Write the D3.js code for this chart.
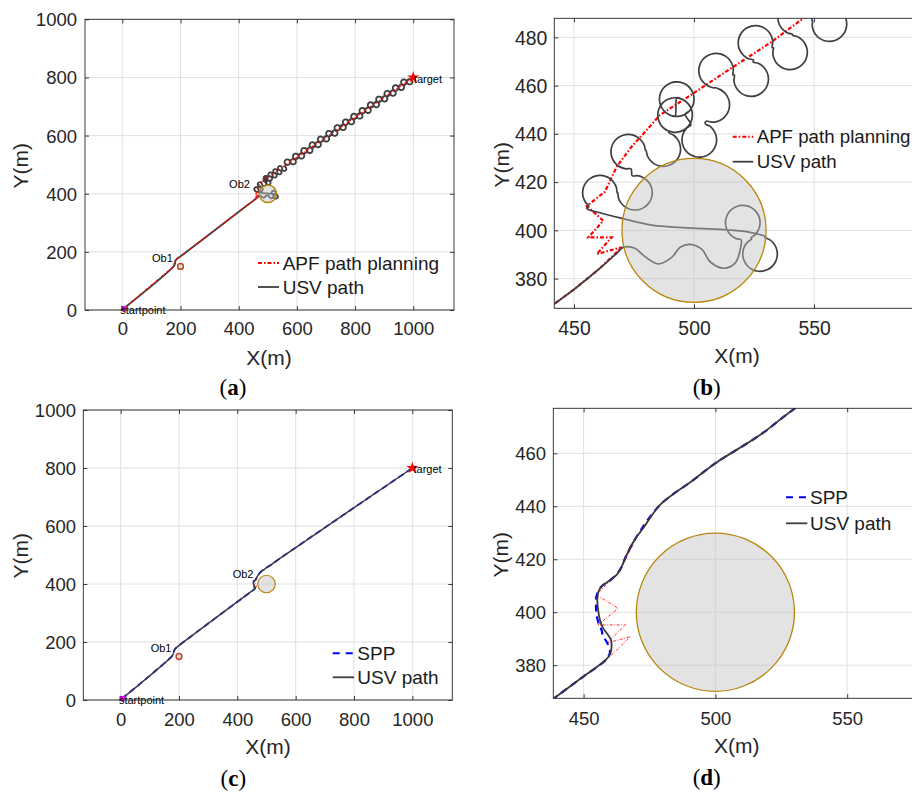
<!DOCTYPE html>
<html><head><meta charset="utf-8">
<script src="https://cdn.jsdelivr.net/npm/d3@7"></script>
<style>body{margin:0;background:#fff;} svg{display:block;}</style>
</head><body>
<svg id="chart" width="912" height="792"></svg>
<script>
// ---------------- DATA ----------------
const startPoint = [5, 5];
const targetPoint = [1000, 800];
const obstacles = [
  {name: "Ob1", x: 200, y: 150, r: 10},
  {name: "Ob2", x: 500, y: 400, r: 30}
];
const loopRadius = 7.2;      // loops seen in panel (b)
const farLoopRadius = 9.5;   // loops seen along the chain in panel (a)

// USV path with APF planning (panels a, b)
const usvApproach = [[5,5],[178,152],[181,160],[183,170],[190,178],[198,183],[441.8,369.5],[449.7,375.3],[460.8,384.3],[467.8,390.5]];
const usvLowerWave = [[470.6,393.0],[475.4,392.6],[479.6,389.1],[485.1,386.1],[490.7,388.8],[494.2,393.0],[498.3,394.2],[503.2,392.2],[506.7,387.0],[512.2,384.3],[517.1,386.4],[519.2,391.9]];
const usvInnerLoops = [[520.3,403.2],[527.5,390.2]];
const usvUpperLine = [[529.6,397.4],[523.3,399.2],[513.6,400.2],[499.7,400.9],[482.4,402.2],[469.9,405.0],[460.8,407.3],[455.3,409.1]];
const usvChainLoopsNear = [
  [460.8,415.6],[475.4,415.6],[472.6,432.6],[487.2,433.7],[492.1,447.8],[492.8,454.4],[502.2,437.5],
  [507.6,452.0],[509.2,466.2],[523.8,462.7],[525.6,477.7],[540.0,473.8],[542.1,488.3],[556.4,485.5]
];
const closedNearLoops = [4, 5];   // the two overlapping, fully closed loops
const usvChainLoopsFar = [
  [567.2,508.7],[587.1,510.3],[595.8,528.4],[615.7,530.0],[624.4,548.0],[644.3,549.6],[653.0,567.7],
  [672.9,569.3],[681.6,587.3],[701.5,588.9],[710.2,607.0],[730.1,608.6],[738.8,626.6],[758.7,628.2],
  [767.4,646.3],[787.3,647.9],[796.0,665.9],[815.9,667.5],[824.6,685.6],[844.5,687.2],[853.2,705.2],
  [873.1,706.8],[881.8,724.8],[901.7,726.5],[910.4,744.5],[930.3,746.1],[939.0,764.1],[958.9,765.8],
  [967.6,783.8],[987.5,785.4]
];
const usvEnd = [[1000,800]];

// APF planned path (panels a, b)
const apfPath = [[5,5],[178,152],[175,158],[183,162],[180,168],[188,176],[198,183],[441.8,369.5],[449.7,375.3],[460.8,384.3],
  [469.9,393.0],[459.5,390.2],[465.7,397.1],[456.0,397.1],[462.2,404.0],[455.3,410.1],[462.9,416.0],[467.8,426.4],
  [474.0,434.7],[480.3,441.6],[485.8,447.8],[499.7,456.8],[516.4,467.8],[532.4,478.2],[545.5,487.9],[1000,800]];

// SPP case (panels c, d)
const usvPathSPP = [[5,5],[175,150],[180,158],[183,170],[190,180],[209,195],[438.8,367.5],[449.9,375.7],[458.7,382.3],
  [460.2,384.5],[460.6,387.0],[460.4,389.5],[459.3,391.4],[457.4,394.0],[456.2,397.1],[455.5,400.9],[455.2,404.6],
  [455.5,407.4],[456.8,409.7],[458.7,411.2],[460.6,412.5],[462.5,414.1],[463.8,416.0],[465.0,418.5],[466.3,421.6],
  [468.2,425.4],[470.1,428.5],[472.6,431.7],[479.0,440.5],[491.6,449.9],[499.9,456.2],[516.9,466.9],[530.2,477.0],[1000,800]];
const sppPath = [[5,5],[175,150],[180,158],[183,170],[190,180],[209,195],[438.8,367.5],[449.9,375.7],[458.7,382.3],
  [460.0,385.1],[458.7,388.9],[457.4,390.8],[456.8,393.3],[455.9,395.2],[454.9,399.0],[454.7,402.1],[454.9,406.2],
  [456.8,409.7],[460.6,412.5],[463.8,416.0],[466.3,421.6],[470.1,428.5],[479.0,440.5],[491.6,449.9],[499.9,456.2],
  [516.9,466.9],[530.2,477.0],[1000,800]];
const apfZigzagSPP = [[449.9,375.7],[458.7,382.3],[460.6,383.9],[467.8,390.8],[458.7,388.3],[465.9,395.2],[455.5,395.2],
  [463.1,401.5],[454.9,406.5],[459.0,410.8],[463.0,414.5],[466.5,421.0],[470.0,428.0]];

// tick labels
const ticksWideX = [0,200,400,600,800,1000];
const ticksWideY = [0,200,400,600,800,1000];
const ticksZoomX = [450,500,550];
const ticksZoomYb = [380,400,420,440,460,480];
const ticksZoomYd = [380,400,420,440,460];

// ---------------- DRAWING ----------------
const svg = d3.select("#chart");
const FONT = "'Liberation Sans', Arial, Helvetica, sans-serif";
const USV_COLOR = "#3f3f3f";
const tau = 2 * Math.PI;

function makePanel(cfg) {
  const g = svg.append("g");
  const x = d3.scaleLinear().domain(cfg.xDom).range([cfg.left, cfg.left + cfg.w]);
  const y = d3.scaleLinear().domain(cfg.yDom).range([cfg.top + cfg.h, cfg.top]);
  const clipId = "clip" + cfg.id;
  svg.append("clipPath").attr("id", clipId).append("rect")
    .attr("x", cfg.left).attr("y", cfg.top).attr("width", cfg.w).attr("height", cfg.h);
  const grid = g.append("g").attr("stroke", "#e0e0e0").attr("stroke-width", 1);
  grid.selectAll("line.gx").data(cfg.xTicks).join("line").attr("class","gx")
    .attr("x1", d => x(d)).attr("x2", d => x(d)).attr("y1", cfg.top).attr("y2", cfg.top + cfg.h);
  grid.selectAll("line.gy").data(cfg.yTicks).join("line").attr("class","gy")
    .attr("y1", d => y(d)).attr("y2", d => y(d)).attr("x1", cfg.left).attr("x2", cfg.left + cfg.w);
  const plot = g.append("g").attr("clip-path", `url(#${clipId})`);
  return {g, plot, x, y, cfg};
}

function finishAxes(P) {
  const {g, x, y, cfg} = P;
  const bottom = cfg.top + cfg.h, right = cfg.left + cfg.w;
  const axB = g.append("g").attr("transform", `translate(0,${bottom})`)
    .call(d3.axisBottom(x).tickValues(cfg.xTicks).tickSizeInner(-4).tickSizeOuter(0).tickFormat(d3.format("d")));
  axB.selectAll("text").attr("y", cfg.xLabOff).attr("dy", "0.35em");
  const axL = g.append("g").attr("transform", `translate(${cfg.left},0)`)
    .call(d3.axisLeft(y).tickValues(cfg.yTicks).tickSizeInner(-4).tickSizeOuter(0).tickFormat(d3.format("d")));
  axL.selectAll("text").attr("x", -cfg.yLabOff).attr("dy", "0.35em");
  const axT = g.append("g").attr("transform", `translate(0,${cfg.top})`)
    .call(d3.axisTop(x).tickValues(cfg.xTicks).tickSizeInner(-4).tickSizeOuter(0).tickFormat(""));
  const axR = g.append("g").attr("transform", `translate(${right},0)`)
    .call(d3.axisRight(y).tickValues(cfg.yTicks).tickSizeInner(-4).tickSizeOuter(0).tickFormat(""));
  [axB, axL, axT, axR].forEach(a => {
    a.attr("font-family", FONT).attr("font-size", cfg.tickFont).attr("color", "#262626");
    a.select(".domain").remove();
    a.selectAll(".tick line").attr("stroke-width", 0.9);
  });
  g.append("rect").attr("x", cfg.left).attr("y", cfg.top).attr("width", cfg.w).attr("height", cfg.h)
    .attr("fill", "none").attr("stroke", "#262626").attr("stroke-width", 0.9);
  g.append("text").attr("x", cfg.xTitle[0]).attr("y", cfg.xTitle[1]).attr("text-anchor", "middle")
    .attr("dominant-baseline", "central").attr("font-family", FONT).attr("font-size", 21).attr("fill", "#262626").text("X(m)");
  g.append("text").attr("transform", `translate(${cfg.yTitle[0]},${cfg.yTitle[1]}) rotate(-90)`).attr("text-anchor", "middle")
    .attr("dominant-baseline", "central").attr("font-family", FONT).attr("font-size", 21).attr("fill", "#262626").text("Y(m)");
  const lab = g.append("text").attr("x", cfg.letterPos[0]).attr("y", cfg.letterPos[1]).attr("text-anchor", "middle")
    .attr("dominant-baseline", "central").attr("font-family", "'Liberation Serif', 'Times New Roman', serif")
    .attr("font-size", 23).attr("fill", "#000");
  lab.append("tspan").text("(");
  lab.append("tspan").attr("font-weight", "bold").text(cfg.letter);
  lab.append("tspan").text(")");
}

function drawLegend(P, items, pos) {
  const g = P.g.append("g");
  items.forEach((it, i) => {
    const yy = pos.ys[i];
    g.append("line").attr("x1", pos.x0).attr("x2", pos.x1).attr("y1", yy).attr("y2", yy)
      .attr("stroke", it.color).attr("stroke-width", it.width).attr("stroke-dasharray", it.dash || null);
    g.append("text").attr("x", pos.tx).attr("y", yy).attr("dominant-baseline", "central")
      .attr("font-family", FONT).attr("font-size", pos.font || 19).attr("fill", "#1a1a1a").text(it.label);
  });
}

// Screen points of a sequence of point runs and loops (each loop traced the long way
// round its circle, from the side facing the previous element to the side facing the next)
function seqPoints(seq, sx, sy) {
  const out = [];
  const anchor = (s, which) => s.pts ? (which === "last" ? s.pts[s.pts.length - 1] : s.pts[0]) : s.loop;
  seq.forEach((s, i) => {
    if (s.pts) { s.pts.forEach(d => out.push([sx(d[0]), sy(d[1])])); return; }
    const c = s.loop, prev = anchor(seq[i - 1], "last"), next = anchor(seq[i + 1], "first");
    const cx = sx(c[0]), cy = sy(c[1]);
    const r = Math.abs(sx(c[0] + s.r) - cx);
    const a0 = Math.atan2(sy(prev[1]) - cy, sx(prev[0]) - cx);
    const a1 = Math.atan2(sy(next[1]) - cy, sx(next[0]) - cx);
    const cw = ((a1 - a0) % tau + tau) % tau;
    let sweep = cw >= Math.PI ? cw : cw - tau;
    if (s.full) sweep += Math.sign(sweep) * tau;
    const n = Math.max(6, Math.ceil(Math.abs(sweep) / (Math.PI / 10)));
    for (let k = 0; k <= n; k++) {
      const a = a0 + sweep * k / n;
      out.push([cx + r * Math.cos(a), cy + r * Math.sin(a)]);
    }
  });
  return out;
}

const usvSeq = [{pts: usvApproach.concat(usvLowerWave)}]
  .concat(usvInnerLoops.map(c => ({loop: c, r: loopRadius})))
  .concat([{pts: usvUpperLine}])
  .concat(usvChainLoopsNear.map((c, i) => ({loop: c, r: loopRadius, full: closedNearLoops.includes(i)})))
  .concat(usvChainLoopsFar.map(c => ({loop: c, r: farLoopRadius, full: true})))
  .concat([{pts: usvEnd}]);

const screenCurve = d3.line().curve(d3.curveCatmullRom.alpha(0.5));

function drawObstacles(P, sw) {
  const {plot, x, y} = P;
  obstacles.forEach(o => {
    plot.append("circle").attr("cx", x(o.x)).attr("cy", y(o.y)).attr("r", Math.abs(x(o.x + o.r) - x(o.x)))
      .attr("fill", "rgb(193,193,193)").attr("fill-opacity", 0.45)
      .attr("stroke", o.name === "Ob1" ? "#bb4a22" : "#b8860b").attr("stroke-width", o.name === "Ob1" ? 1.5 : sw);
  });
}

function drawMarkersAndLabels(P, labelPos) {
  const {g, x, y} = P;
  g.append("path").attr("d", d3.symbol(d3.symbolSquare, 28)())
    .attr("transform", `translate(${x(startPoint[0])},${y(startPoint[1])})`).attr("fill", "#ff00ff");
  g.append("path").attr("d", d3.symbol(d3.symbolStar, 45)())
    .attr("transform", `translate(${x(targetPoint[0])},${y(targetPoint[1])})`).attr("fill", "#ff0000");
  labelPos.forEach(l => {
    g.append("text").attr("x", x(l.p[0])).attr("y", y(l.p[1])).attr("dominant-baseline", "central")
      .attr("font-family", FONT).attr("font-size", 11).attr("fill", "#000").text(l.t);
  });
}

const lineLin = (sx, sy) => d3.line().x(d => sx(d[0])).y(d => sy(d[1]));
const lineCR = (sx, sy) => d3.line().x(d => sx(d[0])).y(d => sy(d[1])).curve(d3.curveCatmullRom.alpha(0.5));

// ---------- Panel (a) ----------
const A = makePanel({id: "a", left: 85, top: 19.3, w: 369, h: 290.7, xDom: [-128.2, 1139.9], yDom: [0, 1000],
  xTicks: ticksWideX, yTicks: ticksWideY, tickFont: 18.5, xLabOff: 19, yLabOff: 8,
  xTitle: [269, 357], yTitle: [20.7, 165.7], letter: "a", letterPos: [233, 387]});
A.plot.append("path").attr("d", screenCurve(seqPoints(usvSeq, A.x, A.y))).attr("fill", "none").attr("stroke", USV_COLOR).attr("stroke-width", 1.8);
A.plot.append("path").attr("d", lineLin(A.x, A.y)(apfPath)).attr("fill", "none").attr("stroke", "#ff0000")
  .attr("stroke-width", 1.1).attr("stroke-dasharray", "3,1.5,1,1.5");
drawObstacles(A, 1.4);
drawMarkersAndLabels(A, [{t: "Ob1", p: [102, 179]}, {t: "Ob2", p: [367, 433]}, {t: "startpoint", p: [-7, 0]}, {t: "target", p: [1002, 796]}]);
finishAxes(A);
drawLegend(A, [
  {label: "APF path planning", color: "#ff0000", width: 2, dash: "4,2,1.5,2"},
  {label: "USV path", color: USV_COLOR, width: 1.8}
], {x0: 258, x1: 279, tx: 282.7, ys: [263, 287]});

// ---------- Panel (b) ----------
const B = makePanel({id: "b", left: 554.3, top: 18.3, w: 369, h: 290, xDom: [441.8, 595.5], yDom: [367.7, 487.9],
  xTicks: ticksZoomX, yTicks: ticksZoomYb, tickFont: 19.4, xLabOff: 20, yLabOff: 7,
  xTitle: [737, 355], yTitle: [501.7, 164.7], letter: "b", letterPos: [706.7, 387]});
B.plot.append("path").attr("d", lineLin(B.x, B.y)(apfPath)).attr("fill", "none").attr("stroke", "#ff0000")
  .attr("stroke-width", 2.2).attr("stroke-dasharray", "4,2,1.5,2");
B.plot.append("path").attr("d", screenCurve(seqPoints(usvSeq, B.x, B.y))).attr("fill", "none").attr("stroke", USV_COLOR).attr("stroke-width", 1.7);
drawObstacles(B, 1.3);
finishAxes(B);
drawLegend(B, [
  {label: "APF path planning", color: "#ff0000", width: 2, dash: "4,2,1.5,2"},
  {label: "USV path", color: USV_COLOR, width: 1.8}
], {x0: 732.7, x1: 753.3, tx: 756.7, ys: [136.7, 161.7], font: 18.7});

// ---------- Panel (c) ----------
const C = makePanel({id: "c", left: 83.3, top: 410, w: 369, h: 290, xDom: [-128, 1137], yDom: [0, 1000],
  xTicks: ticksWideX, yTicks: ticksWideY, tickFont: 18.5, xLabOff: 20, yLabOff: 7.3,
  xTitle: [268, 746.7], yTitle: [20.7, 555.7], letter: "c", letterPos: [233.3, 778.3]});
C.plot.append("path").attr("d", lineLin(C.x, C.y)(apfZigzagSPP)).attr("fill", "none").attr("stroke", "#ff0000")
  .attr("stroke-width", 0.8).attr("stroke-dasharray", "3,1.5,1,1.5");
C.plot.append("path").attr("d", lineCR(C.x, C.y)(sppPath)).attr("fill", "none").attr("stroke", "#0000ff")
  .attr("stroke-width", 1.8).attr("stroke-dasharray", "6,4");
C.plot.append("path").attr("d", lineCR(C.x, C.y)(usvPathSPP)).attr("fill", "none").attr("stroke", "#3a3a4a").attr("stroke-width", 1.5);
drawObstacles(C, 1.2);
drawMarkersAndLabels(C, [{t: "Ob1", p: [103, 178]}, {t: "Ob2", p: [384, 434]}, {t: "startpoint", p: [-6, 0]}, {t: "target", p: [1004, 797]}]);
finishAxes(C);
drawLegend(C, [
  {label: "SPP", color: "#0000ff", width: 2, dash: "7,6"},
  {label: "USV path", color: USV_COLOR, width: 1.8}
], {x0: 332.7, x1: 354, tx: 357.3, ys: [653.3, 677.3]});

// ---------- Panel (d) ----------
const D = makePanel({id: "d", left: 553.3, top: 408.3, w: 369, h: 290, xDom: [438.5, 578.5], yDom: [367.5, 477],
  xTicks: ticksZoomX, yTicks: ticksZoomYd, tickFont: 18.5, xLabOff: 20, yLabOff: 7.3,
  xTitle: [736.7, 745], yTitle: [500.7, 554.7], letter: "d", letterPos: [706.7, 776.7]});
D.plot.append("path").attr("d", lineLin(D.x, D.y)(apfZigzagSPP)).attr("fill", "none").attr("stroke", "#ff0000")
  .attr("stroke-width", 0.8).attr("stroke-dasharray", "3,1.5,1,1.5");
D.plot.append("path").attr("d", lineCR(D.x, D.y)(sppPath)).attr("fill", "none").attr("stroke", "#0000ff")
  .attr("stroke-width", 2.2).attr("stroke-dasharray", "7,5");
D.plot.append("path").attr("d", lineCR(D.x, D.y)(usvPathSPP)).attr("fill", "none").attr("stroke", "#3a3a3a").attr("stroke-width", 1.8);
drawObstacles(D, 1.3);
finishAxes(D);
drawLegend(D, [
  {label: "SPP", color: "#0000ff", width: 2, dash: "7,6"},
  {label: "USV path", color: USV_COLOR, width: 1.8}
], {x0: 786, x1: 807.3, tx: 810, ys: [497.3, 523.3]});
</script>
</body></html>
